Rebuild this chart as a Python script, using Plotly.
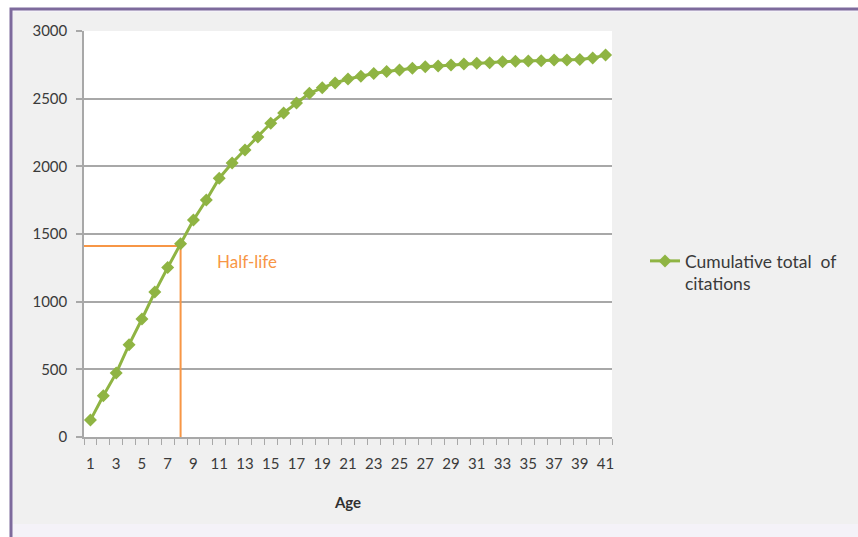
import plotly.graph_objects as go

# ---- data ----
age = list(range(1, 42))
cumulative_citations = [
    125, 305, 472, 682, 872, 1071, 1252, 1428, 1603, 1751,
    1912, 2025, 2121, 2217, 2318, 2394, 2468, 2540, 2580, 2616,
    2645, 2666, 2686, 2700, 2712, 2724, 2735, 2742, 2749, 2756,
    2761, 2766, 2773, 2777, 2779, 2781, 2785, 2786, 2790, 2800, 2822,
]
half_life_age = 8
series_name = "Cumulative total  of<br>citations"
annotation_text = "Half-life"
x_title = "Age"
y_ticks = [0, 500, 1000, 1500, 2000, 2500, 3000]
x_tick_labels = list(range(1, 42, 2))

half_value = cumulative_citations[-1] / 2
x_range = [0.5, 41.5]

# ---- layout geometry (pixels) ----
FW, FH = 858, 537
L, R, T, B = 84, 612, 31, 437
W, H = R - L, B - T


def px(x):
    return (x - L) / W


def py(y):
    return (B - y) / H


green = "#8fb443"
orange = "#f79646"
grid = "#a8a8a8"
txt = "#3a3a3a"
purple = "#7d6a9c"

font_family = "Lato, 'Open Sans', 'DejaVu Sans', sans-serif"

fig = go.Figure()

# half-life guide lines
fig.add_trace(go.Scatter(
    x=[x_range[0], half_life_age, half_life_age],
    y=[half_value, half_value, 0],
    mode="lines",
    line=dict(color=orange, width=2),
    showlegend=False,
    hoverinfo="skip",
    cliponaxis=False,
))

fig.add_trace(go.Scatter(
    x=age,
    y=cumulative_citations,
    mode="lines+markers",
    name=series_name,
    line=dict(color=green, width=3),
    marker=dict(symbol="diamond", size=10, color=green),
    cliponaxis=False,
))

fig.add_annotation(
    x=10.65, y=1300, xref="x", yref="y",
    text=annotation_text, showarrow=False,
    xanchor="left", yanchor="middle",
    font=dict(color=orange, size=17, family=font_family),
)

shapes = [
    # outer frame with purple border
    dict(type="rect", xref="paper", yref="paper", layer="below",
         x0=px(11), x1=px(FW + 20), y0=py(FH + 20), y1=py(9),
         fillcolor="#f4f2f8", line=dict(color=purple, width=3)),
    # gray chart area
    dict(type="rect", xref="paper", yref="paper", layer="below",
         x0=px(13), x1=px(FW + 20), y0=py(524), y1=py(12),
         fillcolor="#f0f0f0", line=dict(width=0)),
    # white plot area
    dict(type="rect", xref="paper", yref="paper", layer="below",
         x0=0, x1=1, y0=0, y1=1,
         fillcolor="#ffffff", line=dict(width=0)),
]

fig.update_layout(
    width=FW, height=FH,
    margin=dict(l=L, r=FW - R, t=T, b=FH - B, pad=0),
    paper_bgcolor="#ffffff",
    plot_bgcolor="rgba(0,0,0,0)",
    font=dict(family=font_family, size=15, color=txt),
    shapes=shapes,
    showlegend=True,
    legend=dict(
        x=px(645), y=py(243), xanchor="left", yanchor="top",
        bgcolor="rgba(0,0,0,0)", valign="top",
        font=dict(size=17.5, color=txt, family=font_family),
        itemwidth=30,
    ),
    xaxis=dict(
        range=x_range,
        tickmode="array", tickvals=x_tick_labels,
        ticktext=[str(v) for v in x_tick_labels],
        ticks="outside", ticklen=12, tickcolor="rgba(0,0,0,0)",
        showgrid=False, zeroline=False,
        showline=True, linecolor=grid, linewidth=1.5,
        minor=dict(
            tickmode="array",
            tickvals=[v + 0.5 for v in range(0, 42)],
            ticks="outside", ticklen=6, tickcolor=grid, tickwidth=1,
            showgrid=False,
        ),
        title=dict(text="<b>" + x_title + "</b>", standoff=27,
                   font=dict(size=15, color="#303030")),
        tickfont=dict(size=15, color=txt),
        fixedrange=True,
    ),
    yaxis=dict(
        range=[0, 3000],
        tickmode="array", tickvals=y_ticks,
        ticks="outside", ticklen=6, tickcolor=grid, tickwidth=1.5,
        showgrid=True, gridcolor=grid, gridwidth=1.5,
        zeroline=False,
        showline=True, linecolor=grid, linewidth=1.5,
        tickfont=dict(size=15, color=txt),
        ticklabelstandoff=6,
        fixedrange=True,
    ),
)

fig.write_html("out.html", config={"displayModeBar": False},
               post_script="document.body.style.margin='0px';")
